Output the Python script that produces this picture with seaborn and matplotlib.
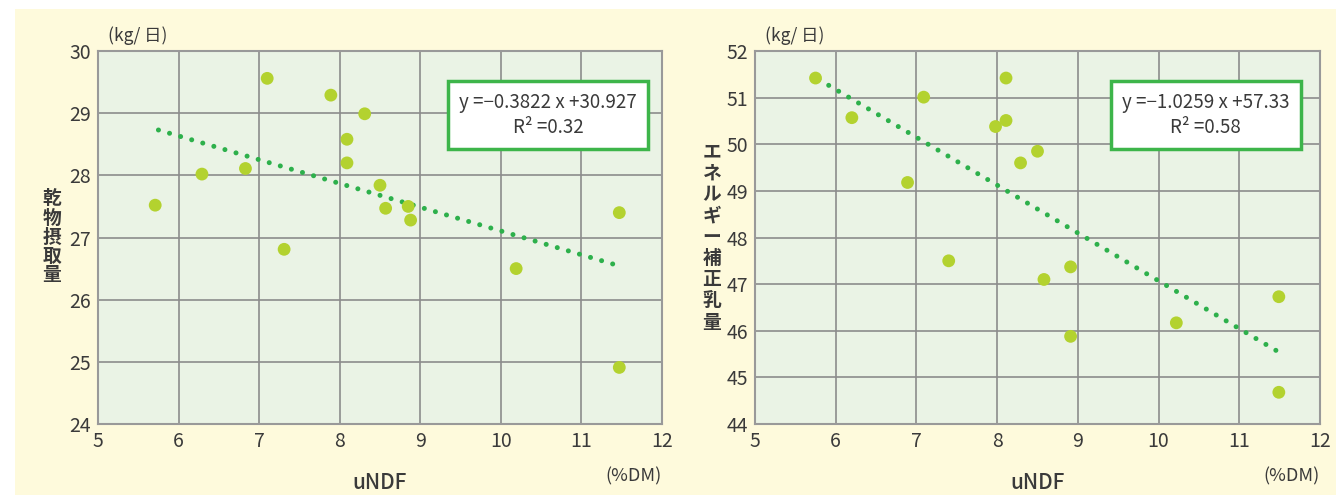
import matplotlib
matplotlib.use("Agg")
import matplotlib.pyplot as plt
import seaborn as sns
import pandas as pd
from matplotlib.patches import Rectangle

# -------------------------------
# Dados
# -------------------------------
undf_dmi = [5.71, 6.29, 6.83, 7.10, 7.31, 7.89, 8.09, 8.09, 8.31, 8.50,
            8.57, 8.85, 8.88, 10.19, 11.47, 11.47]
dmi = [27.52, 28.02, 28.11, 29.56, 26.81, 29.29, 28.58, 28.20, 28.99, 27.84,
       27.47, 27.50, 27.28, 26.50, 27.40, 24.91]

undf_ecm = [5.75, 6.20, 6.89, 7.09, 7.40, 7.98, 8.11, 8.11, 8.29, 8.50,
            8.58, 8.91, 8.91, 10.22, 11.49, 11.49]
ecm = [51.42, 50.57, 49.18, 51.01, 47.50, 50.38, 51.42, 50.51, 49.60, 49.85,
       47.10, 47.37, 45.88, 46.17, 46.73, 44.68]

coef_dmi = (-0.3822, 30.927)
coef_ecm = (-1.0259, 57.33)

eq_dmi = ["y =−0.3822 x +30.927", "R² =0.32"]
eq_ecm = ["y =−1.0259 x +57.33", "R² =0.58"]

ylabel_dmi = "乾物摂取量"
ylabel_ecm = "エネルギー補正乳量"

# -------------------------------
# Estilo
# -------------------------------
sns.set_style("white")
plt.rcParams["font.family"] = ["Noto Sans CJK JP", "DejaVu Sans"]

creme = "#FEFADC"
fundo = "#EAF3E5"
grade = "#8C8C8C"
ponto = "#B3D22F"
linha = "#2DB04B"
texto = "#3A3A3A"

fig = plt.figure(figsize=(13.36, 4.95), dpi=100)
fig.patch.set_facecolor("white")
fig.patches.append(Rectangle((15 / 1336, 0), 1, (495 - 9) / 495,
                             transform=fig.transFigure, facecolor=creme,
                             edgecolor="none", zorder=-10))

ax1 = fig.add_axes([98 / 1336, 71 / 495, 564 / 1336, 373 / 495])
ax2 = fig.add_axes([755 / 1336, 71 / 495, 565 / 1336, 373 / 495])


def painel(ax, xs, ys, coef, eq, ylim, ylabel, ylab_x, ylab_ls):
    df = pd.DataFrame({"x": xs, "y": ys})
    ax.set_facecolor(fundo)

    # linha de tendência (pontilhada)
    x0, x1 = min(xs), max(xs)
    df_l = pd.DataFrame({"x": [x0 + 0.04, x1]})
    df_l["y"] = coef[0] * df_l["x"] + coef[1]
    sns.lineplot(data=df_l, x="x", y="y", ax=ax, color=linha, lw=3.6,
                 linestyle=(0, (0.01, 2.3)), dash_capstyle="round", zorder=3)
    sns.scatterplot(data=df, x="x", y="y", ax=ax, color=ponto, s=85,
                    edgecolor="none", zorder=4)

    ax.set_xlim(5, 12)
    ax.set_ylim(*ylim)
    ax.set_xticks(range(5, 13))
    ax.set_yticks(range(ylim[0], ylim[1] + 1))
    ax.grid(True, color=grade, lw=1.2)
    ax.set_axisbelow(True)
    for s in ax.spines.values():
        s.set_color("#999999")
        s.set_linewidth(1.5)
    ax.tick_params(length=0, labelsize=14, labelcolor=texto, pad=5)
    ax.set_xlabel("")
    ax.set_ylabel("")

    ax.text(0.798, 0.828, "\n".join(eq), transform=ax.transAxes,
            ha="center", va="center", fontsize=13.5, color=texto,
            linespacing=1.25, zorder=6,
            bbox=dict(boxstyle="square,pad=0.6", fc="white",
                      ec="#3DB54A", lw=2.5))

    ax.text(0.018, 1.015, "(kg/ 日)", transform=ax.transAxes, ha="left",
            va="bottom", fontsize=12.5, color=texto)
    ax.text(1.0, -0.115, "(%DM)", transform=ax.transAxes, ha="right",
            va="top", fontsize=13, color=texto)
    ax.text(0.5, -0.158, "uNDF", transform=ax.transAxes, ha="center",
            va="center", fontsize=15, color=texto, fontweight="medium")
    fig.text(ylab_x, 1 - 237 / 495, "\n".join(ylabel), ha="center",
             va="center", fontsize=13.5, fontweight="bold", color=texto,
             linespacing=ylab_ls)


painel(ax1, undf_dmi, dmi, coef_dmi, eq_dmi, (24, 30), ylabel_dmi,
       52 / 1336, 1.0)
painel(ax2, undf_ecm, ecm, coef_ecm, eq_ecm, (44, 52), ylabel_ecm,
       712 / 1336, 1.15)

fig.savefig("out.png", dpi=100, facecolor="white")
